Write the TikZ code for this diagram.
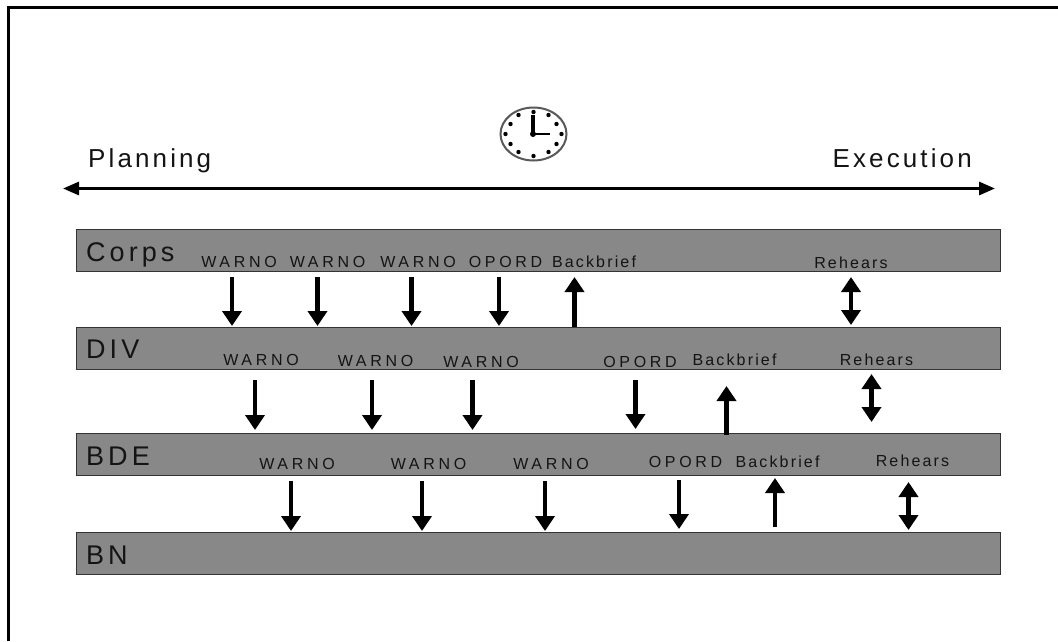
\documentclass[tikz,border=0pt]{standalone}
\usepackage{fontspec}
\setmainfont{Liberation Sans}
\newfontfamily\capsp[LetterSpace=23]{Liberation Sans}
\newfontfamily\lowsp[LetterSpace=13.5]{Liberation Sans}
\newfontfamily\bigsp[LetterSpace=15]{Liberation Sans}
\newfontfamily\axsp[LetterSpace=12]{Liberation Sans}
\usetikzlibrary{arrows.meta,shapes.geometric}
\definecolor{bargray}{HTML}{888888}
\definecolor{txt}{HTML}{141414}
\tikzset{
  bar/.style={draw=black!80,line width=1pt,fill=bargray,minimum width=924pt,minimum height=42pt,inner sep=0pt},
  capl/.style={inner sep=0pt,text=txt,anchor=base,font=\fontsize{16}{16}\capsp},
  lowl/.style={inner sep=0pt,text=txt,anchor=base,font=\fontsize{16}{16}\lowsp},
  big/.style={inner sep=0pt,text=txt,anchor=base west,font=\fontsize{27}{27}\bigsp},
  axislabel/.style={inner sep=0pt,text=txt,font=\fontsize{26}{26}\axsp},
  flow/.style={line width=4.7pt,-{Triangle[length=15pt,width=19pt]}},
  flowboth/.style={line width=4.7pt,{Triangle[length=15pt,width=19pt]}-{Triangle[length=15pt,width=19pt]}},
  axis/.style={line width=3pt,{Triangle[length=16pt,width=13pt]}-{Triangle[length=16pt,width=13pt]}},
  frameline/.style={line width=3pt,black},
  tick/.style={circle,fill=black,inner sep=0pt,minimum size=4.4pt}
}
\newcommand{\arr}[5]{%
  \coordinate (#1a) at (#2,#3);
  \coordinate (#1b) at (#2,#4);
  \draw[#5] (#1a) -- (#1b);}
\begin{document}
\begin{tikzpicture}[x=1pt,y=-1pt]
\useasboundingbox (0,0) rectangle (1058,641);
\fill[white] (0,0) rectangle (1058,641);
% frame
\coordinate (fa) at (8.5,641);
\coordinate (fb) at (8.5,7.5);
\coordinate (fc) at (1058,7.5);
\draw[frameline] (fa) -- (fb) -- (fc);
% clock
\node[draw=black!65,line width=2pt,ellipse,fill=white,minimum width=66pt,minimum height=53pt,inner sep=0pt] (clock) at (533.5,134) {};
\foreach \dx/\dy in {0/-22,15/-19,23/-10,28/0,23/10,15/18,0/22,-15/18,-23/10,-28/0,-23/-10,-15/-19}
  \node[tick] at ([shift={(\dx,\dy)}]clock.center) {};
\coordinate (hA) at (533,134);
\coordinate (hB) at (533,115);
\coordinate (hC) at (550,134);
\draw[line width=3.6pt] (hB) -- (hA);
\draw[line width=2.6pt] (hA) -- (hC);
\fill (hA) circle (3pt);
% axis
\node[axislabel,anchor=base west] (plan) at (88,167) {Planning};
\node[axislabel,anchor=base east] (exec) at (972,167) {Execution};
\coordinate (axl) at (63,188.5);
\coordinate (axr) at (995,188.5);
\draw[axis] (axl) -- (axr);
% bars
\node[bar] (corps) at (538,250) {};
\node[bar] (div) at (538,348) {};
\node[bar] (bde) at (538,454) {};
\node[bar] (bn) at (538,553) {};
\node[big] (lcorps) at (86,261) {Corps};
\node[big] (ldiv) at (86,358) {DIV};
\node[big] (lbde) at (86,465) {BDE};
\node[big] (lbn) at (86,564) {BN};
% labels
\node[capl] (a1) at (239,267) {WARNO};
\node[capl] (a2) at (327.5,267) {WARNO};
\node[capl] (a3) at (418,267) {WARNO};
\node[capl] (a4) at (505.5,267) {OPORD};
\node[lowl] (a5) at (594,267) {Backbrief};
\node[lowl] (a6) at (851,268) {Rehears};
\node[capl] (b1) at (261,365) {WARNO};
\node[capl] (b2) at (375.5,366) {WARNO};
\node[capl] (b3) at (481,367) {WARNO};
\node[capl] (b4) at (640,367) {OPORD};
\node[lowl] (b5) at (734.5,365) {Backbrief};
\node[lowl] (b6) at (876.5,365) {Rehears};
\node[capl] (c1) at (297,469) {WARNO};
\node[capl] (c2) at (428.5,469) {WARNO};
\node[capl] (c3) at (551,469) {WARNO};
\node[capl] (c4) at (685.5,467) {OPORD};
\node[lowl] (c5) at (777.5,467) {Backbrief};
\node[lowl] (c6) at (912.5,466) {Rehears};
% arrows
\arr{p1}{232}{277}{326}{flow}
\arr{p2}{317.5}{277}{326}{flow}
\arr{p3}{411.5}{277}{326}{flow}
\arr{p4}{499}{277}{326}{flow}
\arr{p5}{574.5}{327}{277}{flow}
\arr{p6}{851}{277}{325}{flowboth}
\arr{q1}{255}{380}{430}{flow}
\arr{q2}{372}{380}{430}{flow}
\arr{q3}{472.5}{380}{430}{flow}
\arr{q4}{635.5}{380}{429}{flow}
\arr{q5}{726.5}{435}{386}{flow}
\arr{q6}{871.5}{374}{422}{flowboth}
\arr{r1}{291}{481}{531}{flow}
\arr{r2}{422}{481}{531}{flow}
\arr{r3}{545}{481}{531}{flow}
\arr{r4}{679}{480}{529}{flow}
\arr{r5}{775}{527}{478}{flow}
\arr{r6}{908.5}{482}{530}{flowboth}
\end{tikzpicture}
\end{document}
